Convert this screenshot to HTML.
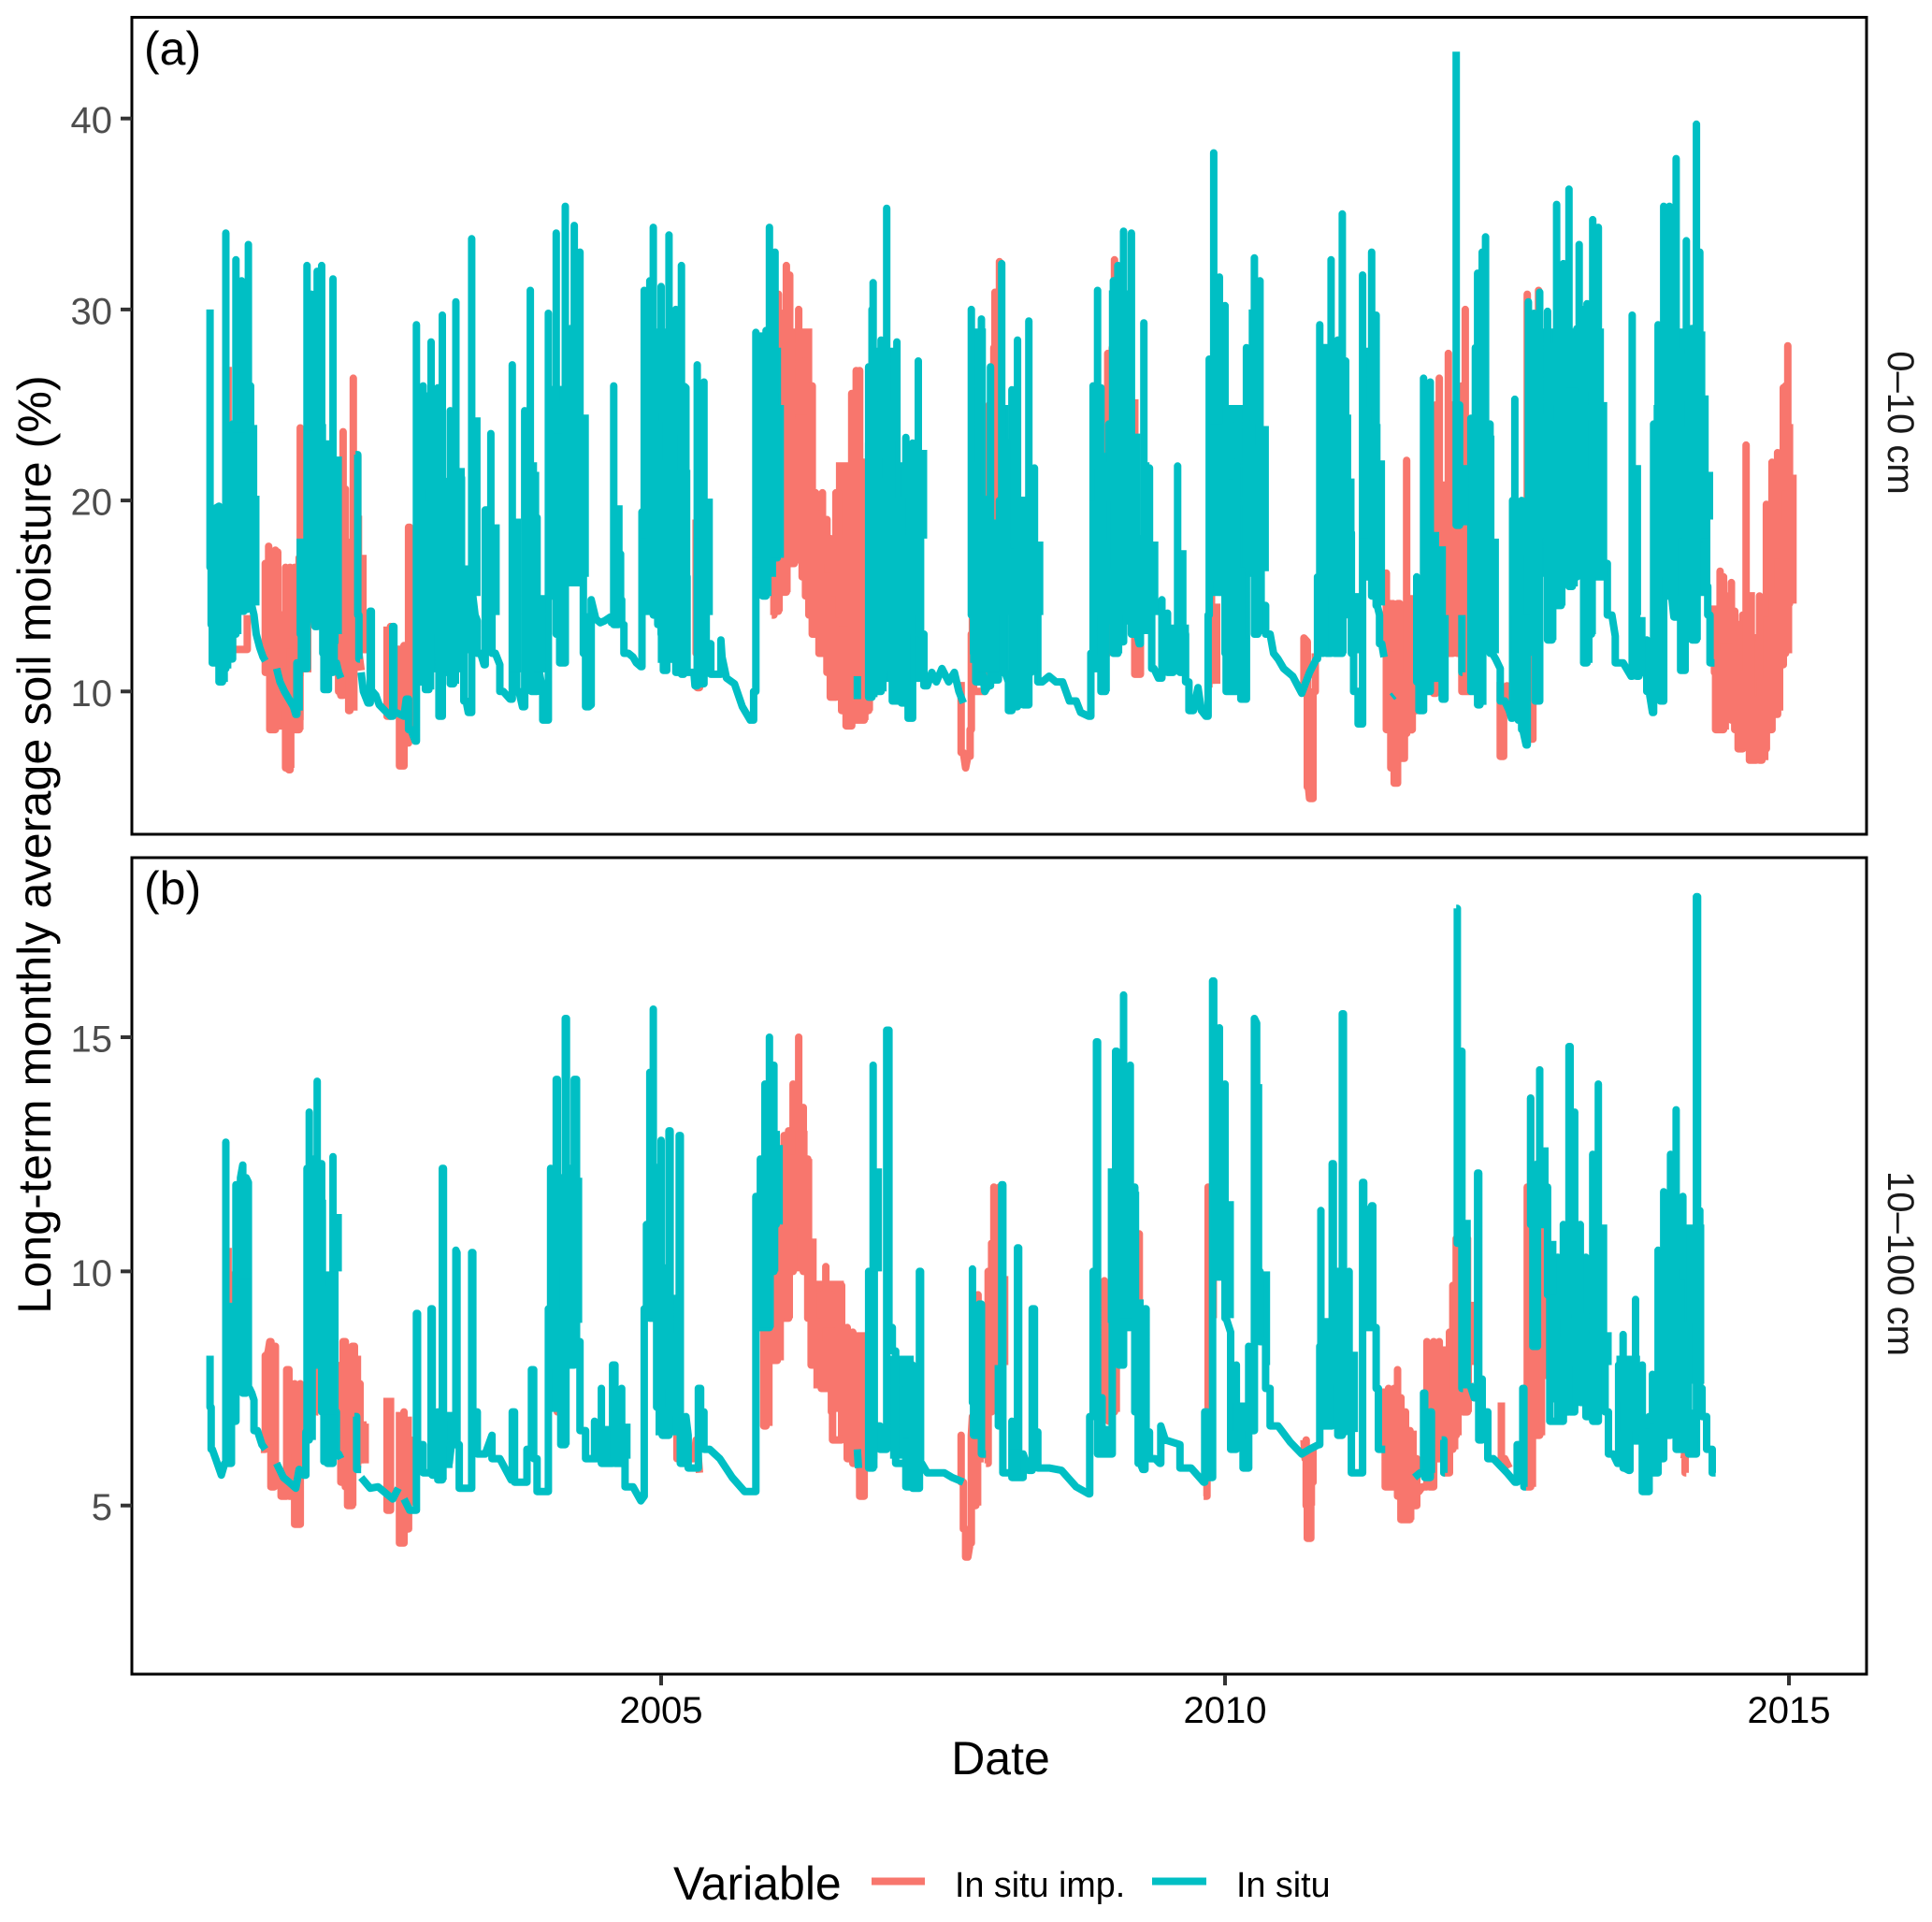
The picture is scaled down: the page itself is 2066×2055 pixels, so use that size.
<!DOCTYPE html>
<html lang="en">
<head>
<meta charset="utf-8">
<title>Long-term monthly average soil moisture</title>
<style>
html,body{margin:0;padding:0;background:#fff}
svg{display:block}
text{font-family:"Liberation Sans",Arial,sans-serif}
</style>
</head>
<body>
<svg id="chart" xmlns="http://www.w3.org/2000/svg" width="2066" height="2055" viewBox="0 0 2066 2055">
<rect x="0" y="0" width="2066" height="2055" fill="#fff"/>
<g id="series-top"></g>
<g id="series-bottom"></g>
<rect x="141" y="18.5" width="1855" height="873.5" fill="none" stroke="#000" stroke-width="3"/>
<rect x="141" y="917" width="1855" height="873" fill="none" stroke="#000" stroke-width="3"/>
<g id="axes"></g>
<text x="154" y="69" font-size="50" fill="#000">(a)</text>
<text x="154" y="967" font-size="50" fill="#000">(b)</text>
<text transform="translate(2019,452) rotate(90)" text-anchor="middle" font-size="40" fill="#1a1a1a">0–10 cm</text>
<text transform="translate(2019,1351) rotate(90)" text-anchor="middle" font-size="40" fill="#1a1a1a">10–100 cm</text>
<text transform="translate(54,903) rotate(-90)" text-anchor="middle" font-size="50.3" fill="#000">Long-term monthly average soil moisture (%)</text>
<text x="1070" y="1897" text-anchor="middle" font-size="50" fill="#000">Date</text>
<g>
<text x="720" y="2031" font-size="50" fill="#000">Variable</text>
<rect x="932" y="2007.5" width="57" height="8" fill="#F8766D"/>
<text x="1021" y="2028" font-size="37.7" fill="#000">In situ imp.</text>
<rect x="1232" y="2007.5" width="58" height="8" fill="#00BFC4"/>
<text x="1322" y="2028" font-size="37.7" fill="#000">In situ</text>
</g>
</svg>
<script>
const xTickYears = [2005, 2010, 2015];
const yTicksTop = [10, 20, 30, 40];
const yTicksBottom = [5, 10, 15];

// Stretches where the daily line is packed solid: [from year, to year, low value, high value]
const denseImputedTop = [
[2001.50,2001.60,11,16.5],[2001.68,2001.83,8.5,15],[2002.17,2002.33,11.5,18],
[2006.03,2006.34,17,29],[2006.35,2006.83,13,18],[2006.55,2006.83,10,22],
[2011.42,2011.70,9,14],[2011.85,2012.17,12,21],
[2014.35,2014.95,9,13],[2014.85,2015.00,12,21],[2014.95,2015.00,15,24]
];
const denseInSituTop = [
[2001.01,2001.10,11.5,19.5],[2001.20,2001.36,14.2,27],[2001.86,2001.99,14.8,30],[2001.99,2002.14,12.5,20.5],
[2002.84,2003.06,11,25],[2003.06,2003.25,11,21],[2003.80,2003.90,10,22],[2004.00,2004.31,15.5,26],
[2004.83,2005.21,14,29],[2004.97,2005.20,11.5,16],[2005.32,2005.40,12.5,25],[2005.84,2006.02,16,28.8],
[2006.84,2007.07,10.5,28],[2007.07,2007.31,10.5,22],[2007.74,2007.88,11.5,29],[2007.99,2008.08,11,25],[2008.10,2008.30,11,20],
[2008.81,2008.91,11,25.5],[2008.97,2009.18,13.5,31],[2009.27,2009.33,13,22],[2009.43,2009.68,11.5,13.5],
[2009.86,2010.00,15,27.5],[2010.00,2010.19,11,25],[2010.21,2010.32,16,30],[2010.83,2011.06,15.5,27.5],[2011.22,2011.36,18,28],
[2011.75,2011.82,10.5,25],[2012.18,2012.35,12,24],[2012.57,2012.66,9,19.5],[2012.69,2013.36,16,29],
[2013.80,2014.25,15,25],[2013.84,2014.22,17,29]
];
const denseImputedBottom = [
[2001.48,2001.60,6.5,8.3],[2001.67,2001.83,5.7,7],[2002.16,2002.34,5.8,8.2],[2002.69,2002.79,5,6.9],
[2006.04,2006.34,10,12.4],[2006.35,2006.62,7.5,9.8],[2006.62,2006.83,6,8.7],[2007.92,2008.00,7.7,10.5],
[2011.42,2011.70,5.4,6.6],[2011.85,2012.02,6.2,8.4],[2012.02,2012.12,7.2,10],[2012.68,2012.83,7.3,11.6]
];
const denseInSituBottom = [
[2001.23,2001.36,7.5,11.8],[2001.86,2001.98,9,12.1],[2001.98,2002.14,6.2,10],[2002.95,2003.15,5.8,7],
[2004.01,2004.30,8.9,12],[2004.02,2004.10,7,10],[2004.87,2004.95,9,13],[2004.95,2005.17,6.5,9.5],
[2005.85,2006.02,10,12.2],[2007.03,2007.24,6,8.2],[2007.74,2007.86,7.3,9.1],[2008.96,2009.18,8.9,12.2],
[2009.89,2010.02,9.8,14],[2010.26,2010.33,8.9,14],[2010.33,2010.40,8,10],[2010.84,2011.10,7,9],[2011.23,2011.33,8.8,11.4],
[2012.90,2013.35,7.2,10],[2013.47,2013.68,6.3,8.2],[2013.86,2014.25,7.6,11]
];

const imputedTop = [
[2001.16,27],[2001.17,13],[2001.19,20],[2001.20,14],[2001.30,12.2],[2001.32,12.2],[2001.33,14],null,
[2001.46,12],[2001.49,16.7],[2001.50,11],[2001.52,17.6],[2001.53,11],[2001.55,8],[2001.56,15],[2001.57,8],[2001.58,17.4],[2001.59,11],[2001.60,17.3],[2001.61,9],[2001.66,8.5],[2001.67,16.5],[2001.68,6],[2001.70,5.9],[2001.71,16.5],[2001.72,8],[2001.74,8],[2001.75,16.5],[2001.76,8],[2001.77,8],[2001.79,17],[2001.80,23.8],[2001.81,14],[2001.82,23.5],[2001.83,11],null,
[2001.94,22.4],[2001.95,19],null,
[2002.14,16],[2002.15,10],[2002.16,9.8],[2002.18,23.6],[2002.19,12],[2002.20,20.6],[2002.21,11],[2002.23,17.5],[2002.24,9],[2002.26,9.6],[2002.27,26.4],[2002.28,12],[2002.29,22],[2002.31,22.3],[2002.32,12],[2002.34,11.1],null,
[2002.57,13.4],[2002.575,8.7],[2002.59,8.7],[2002.60,13.4],[2002.62,9],null,
[2002.68,12.4],[2002.69,6.1],[2002.71,6.1],[2002.72,12.4],[2002.74,8.5],[2002.75,7.3],[2002.76,18.6],[2002.77,18.6],[2002.80,8],null,
[2004.63,15.2],[2004.64,14.8],null,
[2005.14,13],[2005.16,13],null,
[2005.31,19],[2005.32,12],[2005.33,10.2],[2005.34,18.5],[2005.35,11],null,
[2005.98,14],[2006.00,28],[2006.02,14.2],[2006.03,14.2],[2006.04,30.8],[2006.05,18],[2006.07,29.8],[2006.08,15.2],[2006.10,15.2],[2006.11,32.3],[2006.12,20],[2006.14,31.8],[2006.15,16.7],[2006.17,16.7],[2006.18,26],[2006.20,19],[2006.22,30],[2006.24,19],[2006.25,27],[2006.27,16],[2006.28,27.3],[2006.30,15],[2006.31,26],[2006.33,14],[2006.34,26],[2006.35,13],[2006.37,20.4],[2006.38,13],[2006.40,19.5],[2006.41,12],[2006.43,20.4],[2006.45,12],[2006.47,19],[2006.48,11],[2006.50,18],[2006.51,9.7],[2006.53,9.7],[2006.55,20.4],[2006.57,20.4],[2006.58,11],[2006.60,17.8],[2006.62,9],[2006.64,17.8],[2006.65,8.2],[2006.67,8.2],[2006.69,25.6],[2006.71,10],[2006.73,26.8],[2006.75,8.5],[2006.76,26.8],[2006.78,8.5],[2006.80,22],[2006.82,9],[2006.84,23],[2006.85,10],null,
[2007.66,10.5],[2007.68,6.8],[2007.70,6],[2007.72,6.6],[2007.74,8],[2007.75,13],[2007.76,28],[2007.77,12],[2007.80,10],[2007.87,12],[2007.91,25],[2007.93,12],[2007.95,28],[2007.96,30.9],[2007.97,18],[2008.00,32.5],[2008.02,14],null,
[2008.93,18],[2008.94,12],[2008.96,27.7],[2008.98,14],[2009.00,28],[2009.02,32.6],[2009.03,14],null,
[2009.20,25.3],[2009.21,10.9],[2009.23,10.9],[2009.25,14],null,
[2009.87,11],[2009.88,18.8],[2009.89,10.4],null,
[2010.66,10.5],[2010.68,10],[2010.70,12.8],[2010.73,12.6],[2010.74,5],[2010.75,4.4],[2010.77,4.4],[2010.78,10],[2010.80,12],null,
[2011.42,10.5],[2011.43,16.2],[2011.44,8],[2011.46,8],[2011.47,14.6],[2011.48,6],[2011.49,14.6],[2011.50,7],[2011.52,5.2],[2011.53,14.6],[2011.55,14.6],[2011.56,6.5],[2011.58,6.5],[2011.59,14],[2011.60,7.8],[2011.61,22.1],[2011.62,8],[2011.64,8],[2011.66,14],[2011.68,9],[2011.70,14],[2011.73,10],[2011.76,12],[2011.82,11],[2011.85,9.9],[2011.87,25],[2011.89,10],[2011.90,26.4],[2011.92,12],[2011.95,20],[2011.96,12],[2011.98,27.7],[2012.00,12],[2012.02,25],[2012.04,14],[2012.06,18],[2012.08,12],[2012.10,26],[2012.12,10],[2012.13,30],[2012.15,10],[2012.17,20],[2012.19,13],null,
[2012.44,10.5],[2012.45,6.6],[2012.46,6.6],[2012.47,10],[2012.50,10.3],[2012.52,9],null,
[2012.65,8],[2012.67,8],[2012.68,30.8],[2012.70,16],[2012.72,7.5],[2012.73,20],[2012.76,14],[2012.78,31],[2012.80,18],null,
[2014.34,14.5],[2014.35,11],[2014.37,8],[2014.39,16.3],[2014.41,8],[2014.42,16],[2014.44,9],[2014.46,15],[2014.48,9],[2014.49,15.7],[2014.50,8.5],[2014.52,14.2],[2014.54,8],[2014.55,13.5],[2014.57,7],[2014.59,14],[2014.60,7.1],[2014.62,22.9],[2014.64,7.5],[2014.65,13],[2014.67,6.4],[2014.69,6.4],[2014.71,12.5],[2014.73,7],[2014.74,15],[2014.76,6.4],[2014.78,7],[2014.80,19.8],[2014.83,8],[2014.85,22],[2014.87,8.8],[2014.90,22.5],[2014.93,11.4],[2014.95,25.9],[2014.96,12],[2014.97,26],[2014.98,15],[2014.99,28.1],[2015.00,14.6],[2015.005,24]
];

const inSituTop = [
[2001.00,30],[2001.01,16.5],[2001.02,13.5],[2001.03,11.5],[2001.05,19.6],[2001.08,19.7],[2001.10,10.5],[2001.11,17],[2001.13,11.2],[2001.14,34],[2001.16,11.8],[2001.19,11.7],[2001.20,24],[2001.22,13],[2001.23,32.6],[2001.25,14.5],[2001.27,22],[2001.28,31.5],[2001.29,14.2],[2001.30,28],[2001.31,14.3],[2001.33,29],[2001.34,33.4],[2001.35,14.5],[2001.36,26],[2001.37,14.5],[2001.39,14],[2001.41,13],[2001.44,12.3],[2001.47,11.8],[2001.49,11.6],null,
[2001.59,11.2],[2001.62,10.5],[2001.66,10],[2001.70,9.6],[2001.74,9.2],[2001.76,8.8],[2001.77,11.5],[2001.79,11.5],[2001.79,9],null,
[2001.80,18],[2001.81,13],[2001.83,11.2],[2001.86,32.3],[2001.87,15],[2001.88,26],[2001.89,14],[2001.90,30.8],[2001.92,14],[2001.93,13.4],[2001.95,32],[2001.96,16],[2001.97,24],[2001.99,32.3],[2002.00,14],[2002.01,12],[2002.02,10.1],[2002.05,18],[2002.07,11],[2002.09,31.6],[2002.10,13],[2002.12,11.5],[2002.14,11],[2002.16,10.7],null,
[2002.29,22.4],[2002.31,22.4],[2002.32,14],[2002.33,11.7],null,
[2002.34,11],[2002.36,10],[2002.40,9.4],[2002.42,14.2],[2002.43,14.2],[2002.44,10],[2002.47,9.8],[2002.50,9.3],[2002.55,9],[2002.60,8.7],[2002.62,13.4],[2002.63,13.4],[2002.65,8.9],[2002.72,8.7],[2002.74,9.6],[2002.76,9.6],[2002.78,8],[2002.82,7.4],
[2002.83,29.2],[2002.84,12],[2002.86,10.5],[2002.89,26],[2002.90,14],[2002.91,22],[2002.93,10.1],[2002.94,25.5],[2002.96,28.3],[2002.97,13],[2002.99,24],[2003.02,25.9],[2003.03,14],[2003.05,8.7],[2003.06,29.7],[2003.07,12],[2003.09,21],[2003.10,11],[2003.13,24.7],[2003.14,10.4],[2003.16,22],[2003.18,30.4],[2003.19,13],[2003.20,11.3],[2003.23,21.2],[2003.25,12],[2003.27,9.5],[2003.29,8.9],[2003.32,33.7],[2003.33,15],[2003.35,14],[2003.37,13.7],[2003.40,12],[2003.43,11.4],[2003.44,19.5],[2003.46,19.5],[2003.47,13.6],[2003.49,23.5],[2003.50,14],[2003.53,12],[2003.57,11.4],[2003.60,10],[2003.66,9.6],[2003.68,27.1],[2003.70,11],[2003.72,12],[2003.74,10],[2003.77,9.2],[2003.79,24.7],[2003.81,12],[2003.84,31],[2003.85,12],[2003.87,10],[2003.90,19.1],[2003.92,11],[2003.95,10],[2003.99,8.5],[2004.00,29.8],[2004.01,15.5],[2004.03,24],[2004.05,15],[2004.07,34],[2004.08,13],[2004.10,25],[2004.12,11.5],[2004.15,35.4],[2004.17,16],[2004.20,29],[2004.21,16],[2004.23,34.4],[2004.25,16],[2004.28,33],[2004.30,16],[2004.31,16.2],[2004.33,12],[2004.36,9.2],[2004.38,9.3],[2004.38,14.8],[2004.42,13.8],[2004.46,13.6],[2004.50,13.7],[2004.55,13.9],[2004.56,13.6],[2004.58,26],[2004.59,13.5],[2004.62,17.2],[2004.64,17.2],[2004.65,14.8],[2004.67,13.5],[2004.71,12],[2004.75,11.8],[2004.78,11.5],[2004.82,11.3],[2004.83,19.4],[2004.85,31],[2004.87,18],[2004.90,31.5],[2004.91,17.6],[2004.93,34.3],[2004.95,14],[2004.97,26],[2004.98,13.5],[2005.00,31.2],[2005.02,13],[2005.03,11.1],[2005.05,28],[2005.07,33.9],[2005.09,13],[2005.10,11.7],[2005.12,20],[2005.13,30],[2005.15,11],[2005.18,32.3],[2005.19,10.9],[2005.20,26],[2005.22,25.9],[2005.23,16],[2005.29,11],[2005.30,10.3],[2005.32,27.1],[2005.34,18],[2005.35,10.4],[2005.38,26.2],[2005.40,14],[2005.44,12.5],[2005.48,10.9],[2005.53,12.7],[2005.54,11.8],[2005.58,10.7],[2005.65,10.4],[2005.72,9.2],[2005.79,8.5],[2005.82,10],[2005.84,28.8],[2005.86,17],[2005.88,15.5],[2005.90,27],[2005.92,15],[2005.93,28.9],[2005.95,20],[2005.96,34.3],[2005.98,17],[2006.00,30],[2006.01,33],[2006.02,17],[2006.03,28],null,
[2006.74,10.8],[2006.74,9.6],null,
[2006.82,12],[2006.84,27],[2006.85,9.7],[2006.87,30],[2006.88,31.4],[2006.90,13],[2006.92,20],[2006.93,10],[2006.95,28.4],[2006.97,14],[2006.99,20],[2007.00,35.3],[2007.02,11],[2007.04,22],[2007.05,25],[2007.06,9.5],[2007.09,28.3],[2007.11,12],[2007.13,18],[2007.15,9.4],[2007.17,23.3],[2007.19,13],[2007.21,8.6],[2007.23,23],[2007.25,14],[2007.27,16],[2007.28,27.3],[2007.30,18],[2007.33,13],[2007.36,10.3],[2007.40,11],[2007.44,10.5],[2007.49,11.2],[2007.55,10.5],[2007.60,11],[2007.64,10],[2007.68,9.4],null,
[2007.73,24],[2007.75,30],[2007.77,14],[2007.79,12],[2007.80,10.5],[2007.84,29.5],[2007.85,11],[2007.87,10],[2007.90,10.3],[2007.92,27],[2007.94,11],[2007.96,10.6],[2007.99,14],[2008.00,20],[2008.02,32.4],[2008.03,14],[2008.05,11],[2008.08,10.5],[2008.10,9],[2008.11,25.8],[2008.13,9.2],[2008.16,28.4],[2008.18,12],[2008.21,19.5],[2008.22,9.3],[2008.26,29.4],[2008.27,11],[2008.28,19.5],[2008.31,21.7],[2008.34,14],[2008.38,10.5],[2008.44,10.8],[2008.50,10.5],[2008.56,10.5],[2008.62,9.5],[2008.68,9.5],[2008.72,8.9],[2008.79,8.7],[2008.81,12],[2008.83,26],[2008.85,14],[2008.87,31],[2008.88,14],[2008.90,25.9],[2008.91,10],[2008.94,14],[2008.97,24],[2009.00,20],[2009.01,31.5],[2009.03,12],[2009.05,32.3],[2009.06,16],[2009.08,12.6],[2009.10,34.1],[2009.11,14],[2009.13,22],[2009.15,16],[2009.17,34],[2009.18,13],[2009.20,20],[2009.22,13],[2009.24,12.5],[2009.25,18],[2009.28,29.3],[2009.30,14],[2009.33,21.7],[2009.35,14],[2009.37,11.2],[2009.41,10.7],[2009.44,14.8],[2009.46,12],[2009.49,14.1],[2009.51,11],[2009.54,13],[2009.58,21.8],[2009.60,13],[2009.62,11],[2009.65,13],[2009.68,10.5],[2009.72,9],[2009.76,10.2],[2009.79,9],[2009.83,8.7],[2009.85,14],[2009.86,27.4],[2009.88,16],[2009.90,38.2],[2009.91,24],[2009.93,16],[2009.95,31.7],[2009.96,15.2],[2009.98,25],[2010.00,30.2],[2010.01,12],[2010.03,10],[2010.05,24],[2010.07,10],[2010.10,22],[2010.11,11],[2010.14,16],[2010.17,9.6],[2010.19,28],[2010.21,20],[2010.26,32.7],[2010.27,13],[2010.29,22],[2010.31,31.5],[2010.32,16.3],[2010.36,14.5],[2010.40,13],[2010.43,12],[2010.47,11.7],[2010.52,11.2],[2010.60,10.8],[2010.68,9.9],[2010.75,11],[2010.81,11.7],[2010.82,16],[2010.84,29.2],[2010.86,12],[2010.87,28],[2010.90,28],[2010.91,12],[2010.94,32.6],[2010.95,15],[2010.97,28],[2010.98,12],[2011.00,28.4],[2011.02,12],[2011.04,35],[2011.06,14],[2011.07,27.3],[2011.09,15],[2011.12,18.3],[2011.14,12],[2011.18,10],[2011.20,8.3],[2011.22,31.8],[2011.24,18],[2011.26,16],[2011.28,16],[2011.30,33],[2011.32,15],[2011.34,29.7],[2011.35,14.5],[2011.37,14],[2011.39,12.5],[2011.41,11.8],null,
[2011.48,9.7],[2011.50,9.8],null,
[2011.68,12],[2011.70,16],[2011.72,10.5],[2011.73,9],[2011.76,26.4],[2011.78,12],[2011.80,10],[2011.82,26.2],[2011.83,10.5],null,
[2011.925,17.6],[2011.93,9.6],[2011.95,14],null,
[2012.05,43.5],[2012.06,18.7],[2012.08,25],[2012.09,18.7],null,
[2012.10,14],[2012.105,11],null,
[2012.17,11],[2012.18,24.3],[2012.20,10],[2012.21,10],[2012.22,28],[2012.24,31.9],[2012.24,9.3],[2012.26,28],[2012.28,33],[2012.29,15],[2012.31,33.8],[2012.33,13],[2012.35,24],[2012.37,12],[2012.40,11.7],[2012.44,11.2],[2012.48,9.5],[2012.52,9],[2012.54,8.6],[2012.55,20],[2012.57,25.3],[2012.58,9],[2012.60,8.5],[2012.63,20],[2012.64,8],[2012.67,7.2],[2012.68,20],[2012.69,30.4],[2012.71,15],[2012.74,29.8],[2012.75,12],[2012.77,9.5],[2012.79,30.9],[2012.81,18],[2012.83,24],[2012.86,29.9],[2012.88,12.7],[2012.90,28],[2012.92,15],[2012.94,35.5],[2012.96,14.5],[2012.98,16],[2013.00,32.4],[2013.02,16],[2013.03,20],[2013.05,36.3],[2013.07,15.5],[2013.08,20],[2013.10,16],[2013.12,29],[2013.14,33.4],[2013.16,18],[2013.18,30],[2013.20,11.5],[2013.21,30.3],[2013.23,13],[2013.25,20],[2013.26,34.7],[2013.28,16],[2013.30,20],[2013.31,34.3],[2013.33,16],[2013.35,18],[2013.39,16.7],[2013.43,14],[2013.46,12.9],[2013.53,11.5],[2013.58,11],[2013.60,10.8],[2013.61,29.7],[2013.63,14],[2013.65,17],[2013.67,10.8],[2013.70,12],[2013.74,12.7],[2013.76,10],[2013.79,8.9],[2013.80,24],[2013.82,12],[2013.84,29.2],[2013.86,16],[2013.87,9.5],[2013.89,35.4],[2013.91,20],[2013.92,15],[2013.94,35.4],[2013.96,15],[2013.98,13.9],[2014.00,37.9],[2014.02,18],[2014.04,16],[2014.06,11.1],[2014.08,26],[2014.09,33.6],[2014.11,14],[2014.14,29],[2014.16,12.7],[2014.18,39.7],[2014.20,18],[2014.21,33],[2014.23,18],[2014.25,24],[2014.27,19],[2014.28,15.5],[2014.30,14],[2014.34,11.5]
];

const imputedBottom = [
[2001.16,10.5],[2001.17,7],[2001.18,7],[2001.19,10],null,
[2001.45,6.2],[2001.49,8.2],[2001.50,6.3],[2001.51,8.2],[2001.53,8.5],[2001.54,8.5],[2001.55,5.4],[2001.56,5.4],[2001.57,8.4],[2001.58,8.4],[2001.60,5.8],[2001.63,5.7],[2001.65,5.2],[2001.67,5.2],[2001.68,7.9],[2001.70,7.9],[2001.71,5.2],[2001.73,7],[2001.75,7.6],[2001.76,4.6],[2001.78,4.6],[2001.80,7.6],[2001.81,7],null,
[2001.95,9],[2001.96,7],null,
[2002.15,6],[2002.16,8],[2002.17,5.5],[2002.18,8.5],[2002.20,8.5],[2002.21,5.4],[2002.22,8],[2002.23,5],[2002.25,5],[2002.26,8.4],[2002.28,8.4],[2002.29,5.9],[2002.31,7.6],[2002.32,6],[2002.33,7.6],[2002.34,5.9],null,
[2002.57,7.3],[2002.575,4.9],[2002.59,4.9],[2002.60,7.3],null,
[2002.68,7],[2002.69,4.2],[2002.71,4.2],[2002.72,7],[2002.74,5.1],[2002.75,4.5],[2002.76,6.4],[2002.78,6.4],[2002.79,5],null,
[2004.07,8.2],[2004.08,7.8],[2004.10,7],null,
[2004.63,7.4],[2004.64,6],null,
[2005.14,6.7],[2005.16,6],[2005.17,6.7],[2005.19,6],[2005.29,6],[2005.31,6.4],[2005.33,6],[2005.34,5.7],null,
[2005.90,7],[2005.91,9.5],[2005.92,6.7],[2005.93,9.5],null,
[2005.96,9],[2006.00,8.1],[2006.01,11],[2006.02,8.1],[2006.03,11],[2006.05,12.5],[2006.07,9],[2006.09,12.9],[2006.11,9],[2006.13,13],[2006.15,10],[2006.17,14],[2006.19,11],[2006.22,15],[2006.24,11],[2006.26,13.5],[2006.28,10],[2006.30,12.4],[2006.31,9],[2006.33,10],[2006.36,8],[2006.38,8.5],[2006.40,8],[2006.42,9.5],[2006.43,7.5],[2006.46,10.1],[2006.48,7.5],[2006.51,9.5],[2006.52,7],[2006.55,6.4],[2006.57,6.4],[2006.60,9.7],[2006.62,6.5],[2006.65,8.8],[2006.67,6],[2006.70,8.7],[2006.71,5.9],[2006.76,5.9],[2006.77,5.2],[2006.79,5.2],[2006.80,8.4],[2006.82,6],[2006.84,8.3],[2006.85,6],null,
[2007.65,5.6],[2007.66,6.5],[2007.68,5.5],[2007.70,4.5],[2007.72,3.9],[2007.74,4.2],[2007.75,6.5],[2007.76,6.9],[2007.77,5],[2007.79,7.5],[2007.81,9.5],[2007.82,6],[2007.86,6],null,
[2007.88,5.9],[2007.90,10],[2007.92,7],[2007.93,10.6],[2007.94,8],[2007.95,11.8],[2007.97,9.5],[2008.00,11.8],[2008.02,8],null,
[2008.92,8],[2008.93,9.8],[2008.96,7],[2008.97,6.8],[2008.99,9],[2009.00,7],[2009.02,10.5],[2009.03,8],null,
[2009.20,8],[2009.21,10.8],[2009.23,7],[2009.24,10.8],[2009.25,6],null,
[2009.81,5.2],[2009.82,5.2],[2009.84,6],[2009.85,11.8],[2009.86,9],[2009.87,7],[2009.88,10],null,
[2010.70,6.4],[2010.71,6],[2010.72,6.4],[2010.73,5],[2010.74,4.3],[2010.75,4.3],[2010.76,5.5],[2010.78,6.2],null,
[2011.42,7.5],[2011.44,5.4],[2011.45,7.5],[2011.47,5.4],[2011.50,7.5],[2011.51,5.4],[2011.53,7.9],[2011.54,5.2],[2011.56,7.3],[2011.58,4.7],[2011.60,7],[2011.62,4.7],[2011.64,6.6],[2011.66,5],[2011.70,6],[2011.72,5.3],[2011.75,5.4],[2011.79,8.5],[2011.81,6],[2011.84,5.4],[2011.85,8.5],[2011.87,6],[2011.90,8.5],[2011.92,6],[2011.94,7.5],[2011.96,5.7],[2011.99,8.7],[2012.00,6.2],[2012.02,9.7],[2012.03,6.5],[2012.05,10.7],[2012.06,8],[2012.08,12],[2012.09,7.2],[2012.11,10.7],[2012.13,7],[2012.15,10.7],[2012.16,8],[2012.18,8],null,
[2012.45,7.2],[2012.46,6],[2012.48,6],[2012.52,5.8],null,
[2012.67,5.4],[2012.68,11.8],[2012.69,5.4],[2012.71,13.7],[2012.73,8],[2012.76,12],[2012.77,6.5],[2012.79,14.3],[2012.81,8],[2012.82,10],[2012.83,7.7],null,
[2013.89,8.5],[2013.90,8],null,
[2014.07,6],[2014.08,6.2],[2014.09,5.7],null
];

const inSituBottom = [
[2001.00,8.2],[2001.01,7.1],[2001.02,6.2],[2001.05,6],[2001.10,5.65],[2001.13,5.9],[2001.14,12.76],[2001.15,5.9],[2001.19,7],[2001.20,6.8],[2001.22,6.8],[2001.23,11.85],[2001.25,7.5],[2001.27,12],[2001.29,12.27],[2001.30,7.4],[2001.32,12],[2001.34,11.9],[2001.35,7.5],[2001.37,7.4],[2001.39,7.25],[2001.42,6.6],[2001.46,6.3],[2001.49,6.2],null,
[2001.59,5.9],[2001.65,5.6],[2001.70,5.5],[2001.76,5.37],[2001.79,5.77],[2001.83,5.65],[2001.85,6.57],[2001.86,12.2],[2001.87,6.4],[2001.88,13.4],[2001.90,9],[2001.91,12.4],[2001.93,8],[2001.95,14.06],[2001.97,9],[2001.99,12.3],[2002.01,7],[2002.02,5.94],[2002.04,8],[2002.06,5.9],[2002.09,12.45],[2002.10,10],[2002.12,7],[2002.14,6.1],[2002.16,6],null,
[2002.28,6.9],[2002.30,6.9],[2002.34,5.77],null,
[2002.34,5.6],[2002.42,5.37],[2002.49,5.4],[2002.62,5.14],[2002.67,5.37],null,
[2002.72,5.14],[2002.77,4.9],[2002.82,4.9],[2002.83,9.1],[2002.84,9.1],[2002.89,6.3],[2002.94,5.7],[2002.96,9.2],[2002.97,9.2],[2002.99,5.65],[2003.02,7],[2003.05,5.55],[2003.06,12.2],[2003.07,12.2],[2003.12,5.9],[2003.14,6.3],[2003.18,10.45],[2003.19,10.4],[2003.21,6.3],[2003.29,5.37],[2003.32,10.4],[2003.33,10.4],[2003.37,7],[2003.44,6.1],[2003.50,6.5],[2003.57,6],[2003.67,5.55],[2003.68,7],[2003.70,7],[2003.79,5.5],[2003.81,6.2],[2003.85,7.9],[2003.87,7.9],[2003.90,6],[2003.99,5.3],[2004.00,9.2],[2004.02,12.2],[2004.03,8],[2004.07,14.1],[2004.08,14.1],[2004.10,8],[2004.11,12],[2004.13,6.3],[2004.15,15.4],[2004.16,15.4],[2004.18,8],[2004.20,12.2],[2004.22,8],[2004.23,14.1],[2004.25,14.1],[2004.28,8.5],[2004.33,6.6],[2004.36,6],[2004.40,6],[2004.41,6.8],[2004.44,6],[2004.47,7.5],[2004.52,5.9],[2004.57,8],[2004.59,8],[2004.62,5.9],[2004.65,7.5],[2004.68,6],[2004.75,5.4],[2004.82,5.1],[2004.85,5.2],[2004.85,9.2],[2004.87,11],[2004.90,14.25],[2004.91,9],[2004.93,15.6],[2004.94,9],[2004.96,11],[2004.97,7.1],[2005.00,12.8],[2005.01,7.5],[2005.05,6.5],[2005.07,13],[2005.08,13],[2005.10,8.6],[2005.12,7],[2005.16,12.9],[2005.17,12.9],[2005.18,5.9],[2005.22,6.9],[2005.24,6.5],[2005.32,5.8],[2005.33,7.5],[2005.35,7.5],[2005.38,7],[2005.43,6.2],[2005.52,6],[2005.63,5.6],[2005.74,5.3],[2005.83,5.3],[2005.84,11.6],[2005.86,9],[2005.88,12.4],[2005.90,8.8],[2005.92,14],[2005.93,8.8],[2005.96,15],[2005.98,10],[2006.00,14.4],[2006.01,11],[2006.02,13],null,
[2006.74,6.2],[2006.75,5.8],null,
[2006.83,6.2],[2006.84,10],[2006.86,5.8],[2006.88,14.4],[2006.89,10],[2006.94,6.7],[2006.97,6.2],[2007.00,15.15],[2007.02,15.15],[2007.05,8.8],[2007.08,8.3],[2007.12,5.9],[2007.17,7.5],[2007.20,5.4],[2007.23,8],[2007.24,5.37],[2007.29,10],[2007.30,10],[2007.31,5.9],[2007.36,5.7],[2007.51,5.7],[2007.58,5.6],[2007.68,5.5],null,
[2007.73,9.2],[2007.76,10.05],[2007.77,7.2],[2007.79,6.5],[2007.82,9.3],[2007.84,9.3],[2007.85,6.1],[2007.88,6.1],null,
[2007.99,8],[2008.00,6.7],[2008.02,11.85],[2008.03,11.85],[2008.08,5.7],[2008.11,6.8],[2008.14,5.6],[2008.16,10.5],[2008.17,10.5],[2008.20,5.6],[2008.21,6.1],[2008.26,5.75],[2008.29,9.2],[2008.31,9.2],[2008.34,6.57],[2008.44,5.8],[2008.55,5.75],[2008.68,5.4],[2008.79,5.25],[2008.80,6.9],[2008.83,10],[2008.86,14.9],[2008.87,14.9],[2008.89,6.1],[2008.91,7.3],[2008.93,6.1],[2009.00,9],[2009.01,8.6],[2009.03,14.7],[2009.04,14.7],[2009.06,9],[2009.09,8],[2009.10,15.9],[2009.11,9],[2009.13,8.8],[2009.16,14.4],[2009.17,9],[2009.20,11.8],[2009.23,7],[2009.25,5.9],[2009.27,5.77],[2009.29,9.2],[2009.30,9.2],[2009.33,6.57],[2009.38,6],[2009.42,5.9],[2009.43,6.7],[2009.47,6.4],[2009.60,6.3],[2009.70,5.8],[2009.81,5.5],[2009.82,7],[2009.84,7],[2009.86,5.6],[2009.89,16.2],[2009.90,16.2],[2009.91,11.8],[2009.94,9.9],[2009.95,15.2],[2009.96,10],[2010.00,14],[2010.01,9],[2010.05,8.7],[2010.08,6.2],[2010.10,8],[2010.16,6.4],[2010.20,5.8],[2010.21,8.4],[2010.23,6.6],[2010.26,15.4],[2010.28,15.3],[2010.31,10],[2010.36,8.5],[2010.40,7.5],[2010.47,6.7],[2010.58,6.35],[2010.68,6.1],[2010.75,6.2],[2010.83,6.3],[2010.84,8.4],[2010.85,11.3],[2010.87,6.7],[2010.88,8.5],[2010.91,6.7],[2010.95,12.3],[2010.96,12.3],[2010.98,7],[2011.00,10],[2011.02,6.5],[2011.04,15.5],[2011.05,15.5],[2011.07,6.8],[2011.10,10],[2011.12,6.57],[2011.20,5.7],[2011.22,11.9],[2011.23,11.9],[2011.25,8.8],[2011.30,11.4],[2011.31,11.4],[2011.34,8.8],[2011.36,7.5],[2011.42,6.2],null,
[2011.68,5.6],[2011.73,5.7],[2011.76,7.4],[2011.77,7.4],[2011.78,5.6],[2011.82,7],[2011.83,7],[2011.84,5.7],null,
[2011.92,6.4],[2011.94,6.4],[2011.95,5.7],null,
[2012.05,17.75],[2012.06,17.75],[2012.07,10.6],[2012.10,14.7],[2012.11,7.5],null,
[2012.13,10.4],[2012.14,8.6],null,
[2012.17,7.6],[2012.21,7.3],[2012.24,12.1],[2012.25,12.1],[2012.26,6.4],[2012.28,7.7],[2012.33,7],[2012.38,6],[2012.50,5.7],[2012.57,5.5],[2012.59,6.3],[2012.64,7.5],[2012.65,7.5],[2012.67,5.4],null,
[2012.68,11.6],[2012.71,13.7],[2012.73,11],[2012.77,8.4],[2012.77,12.3],[2012.79,14.3],[2012.81,11],[2012.86,11.8],[2012.88,9.5],[2012.93,6.8],[2012.95,10.3],[2012.97,6.8],[2013.00,11],[2013.02,7],[2013.05,14.8],[2013.06,14.8],[2013.08,7],[2013.10,13.4],[2013.12,8],[2013.14,7.3],[2013.15,11],[2013.17,7.2],[2013.20,10.3],[2013.22,6.9],[2013.26,12.5],[2013.27,6.8],[2013.31,14],[2013.33,8],[2013.35,9.4],[2013.37,8],[2013.40,7],[2013.44,6.1],[2013.48,5.9],[2013.49,8],[2013.53,8.65],[2013.54,5.8],[2013.58,5.75],[2013.59,8],[2013.64,9.4],[2013.66,6.6],[2013.70,8],[2013.74,5.3],[2013.76,6.9],[2013.79,7.8],[2013.80,5.7],[2013.84,10.45],[2013.86,6],[2013.89,11.7],[2013.90,6.5],[2013.95,12.5],[2013.97,7.6],[2014.00,13.45],[2014.02,6.2],[2014.06,11.6],[2014.07,6.2],[2014.11,8],[2014.16,6.1],[2014.18,18],[2014.19,18],[2014.21,11.3],[2014.23,7.5],[2014.27,6.9],[2014.32,6.2],[2014.35,5.7]
];

const xScale = year => 707 + (year - 2005) * 120.6;
const yScaleTop = value => 739.3 - (value - 10) * 20.42;
const yScaleBottom = value => 1609.7 - (value - 5) * 50.07;

function fmt(n) { return n.toFixed(1); }

function linePath(series, yScale) {
  let d = '';
  let prev = null;
  series.forEach(point => {
    if (point === null) { prev = null; return; }
    const x = xScale(point[0]);
    const y = yScale(point[1]);
    if (prev === null) {
      d += 'M' + fmt(x) + ' ' + fmt(y);
    } else {
      const dx = x - prev.x;
      const dy = y - prev.y;
      if (Math.abs(dy) > 25 && dx < 14) {
        if (dy < 0) {
          d += 'L' + fmt(x) + ' ' + fmt(prev.y);
        } else {
          d += 'L' + fmt(prev.x) + ' ' + fmt(y);
        }
      }
      d += 'L' + fmt(x) + ' ' + fmt(y);
    }
    prev = { x: x, y: y };
  });
  return d;
}

function shoulderPath(series, yScale) {
  let d = '';
  series.forEach((point, i) => {
    if (point === null) return;
    const before = series[i - 1];
    const after = series[i + 1];
    if (!before || !after) return;
    if (point[1] <= before[1] || point[1] < after[1]) return;
    const yPeak = yScale(point[1]);
    const yBase = yScale(after[1]);
    if (yBase - yPeak < 60) return;
    const x = xScale(point[0]) + 3;
    const yShoulder = yBase + (yPeak - yBase) * 0.5;
    d += 'M' + fmt(x) + ' ' + fmt(yBase) + 'L' + fmt(x) + ' ' + fmt(yShoulder);
  });
  return d;
}

function bandPath(bands, yScale) {
  let d = '';
  bands.forEach(band => {
    const x1 = xScale(band[0]);
    const x2 = xScale(band[1]);
    const yLow = yScale(band[2]);
    const yHigh = yScale(band[3]);
    d += 'M' + fmt(x1) + ' ' + fmt(yLow) + 'L' + fmt(x2) + ' ' + fmt(yLow) + 'L' + fmt(x2) + ' ' + fmt(yHigh) + 'L' + fmt(x1) + ' ' + fmt(yHigh) + 'Z';
  });
  return d;
}

const svgNS = 'http://www.w3.org/2000/svg';

function drawSeries(parentId, series, bands, yScale, color, name) {
  const group = document.getElementById(parentId);
  const band = document.createElementNS(svgNS, 'path');
  band.setAttribute('d', bandPath(bands, yScale));
  band.setAttribute('fill', color);
  
  
  group.appendChild(band);
  const path = document.createElementNS(svgNS, 'path');
  path.setAttribute('d', linePath(series, yScale));
  path.setAttribute('fill', 'none');
  path.setAttribute('stroke', color);
  path.setAttribute('stroke-width', '8');
  path.setAttribute('stroke-linejoin', 'round');
  path.setAttribute('stroke-linecap', 'butt');
  
  
  group.appendChild(path);
  const decay = document.createElementNS(svgNS, 'path');
  decay.setAttribute('d', shoulderPath(series, yScale));
  decay.setAttribute('fill', 'none');
  decay.setAttribute('stroke', color);
  decay.setAttribute('stroke-width', '13');
  decay.setAttribute('stroke-linecap', 'butt');
  
  
  group.appendChild(decay);
}

drawSeries('series-top', imputedTop, denseImputedTop, yScaleTop, '#F8766D', 'imputed-line-top');
drawSeries('series-top', inSituTop, denseInSituTop, yScaleTop, '#00BFC4', 'in-situ-line-top');
drawSeries('series-bottom', imputedBottom, denseImputedBottom, yScaleBottom, '#F8766D', 'imputed-line-bottom');
drawSeries('series-bottom', inSituBottom, denseInSituBottom, yScaleBottom, '#00BFC4', 'in-situ-line-bottom');

const axes = document.getElementById('axes');

function drawYTicks(ticks, yScale, name) {
  ticks.forEach(tick => {
    const y = yScale(tick);
    const mark = document.createElementNS(svgNS, 'line');
    mark.setAttribute('x1', 129);
    mark.setAttribute('x2', 141);
    mark.setAttribute('y1', y);
    mark.setAttribute('y2', y);
    mark.setAttribute('stroke', '#333');
    mark.setAttribute('stroke-width', '4');
    
    
    axes.appendChild(mark);
    const label = document.createElementNS(svgNS, 'text');
    label.setAttribute('x', 120);
    label.setAttribute('y', y + 15.5);
    label.setAttribute('text-anchor', 'end');
    label.setAttribute('font-size', '40');
    label.setAttribute('fill', '#4D4D4D');
    
    
    label.textContent = tick;
    axes.appendChild(label);
  });
}

drawYTicks(yTicksTop, yScaleTop, 'y-axis-top');
drawYTicks(yTicksBottom, yScaleBottom, 'y-axis-bottom');

xTickYears.forEach(year => {
  const x = xScale(year);
  const mark = document.createElementNS(svgNS, 'line');
  mark.setAttribute('x1', x);
  mark.setAttribute('x2', x);
  mark.setAttribute('y1', 1791);
  mark.setAttribute('y2', 1802);
  mark.setAttribute('stroke', '#333');
  mark.setAttribute('stroke-width', '4');
  
  
  axes.appendChild(mark);
  const label = document.createElementNS(svgNS, 'text');
  label.setAttribute('x', x);
  label.setAttribute('y', 1842);
  label.setAttribute('text-anchor', 'middle');
  label.setAttribute('font-size', '40');
  label.setAttribute('fill', '#000');
  
  
  label.textContent = year;
  axes.appendChild(label);
});
</script>
</body>
</html>
